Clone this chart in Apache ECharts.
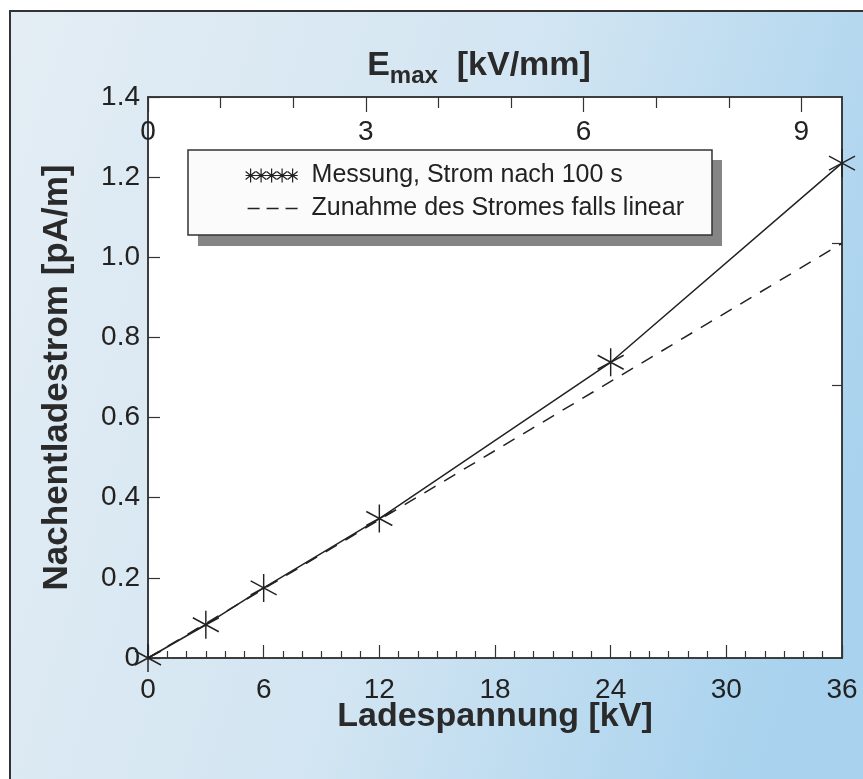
<!DOCTYPE html>
<html>
<head>
<meta charset="utf-8">
<script src="https://cdn.jsdelivr.net/npm/echarts@6/dist/echarts.min.js"></script>
<style>
  html, body { margin: 0; padding: 0; background: #fff; }
  #chart { width: 863px; height: 779px; }
</style>
</head>
<body>
<div id="chart"></div>
<script>
// Messwerte
const voltage = [0, 3, 6, 12, 24, 36];
const current = [0, 0.083, 0.175, 0.348, 0.738, 1.235];
// lineare Extrapolation
const linearVoltage = [0, 36];
const linearCurrent = [0, 1.035];
// obere Achse E_max
const fieldMax = 9.56;
const fieldLabels = [0, 3, 6, 9];
const fieldMinor = [1, 2, 4, 5, 7, 8];
const rightTicks = [0.68, 1.035];

const FONT = "'Liberation Sans', Arial, Helvetica, sans-serif";
const INK = "#222";

const starPath = "path://M0,-10L0,10M-9,-5L9,5M-9,5L9,-5";

// legend icons: row of small stars, and three dashes
let starRow = "M0,8L52,8";
[5, 15.5, 26, 36.5, 47].forEach((cx) => {
  starRow += `M${cx},1L${cx},15M${cx - 5},4L${cx + 5},12M${cx - 5},12L${cx + 5},4`;
});
const dashRow =
  "M0,0L0.01,0L0,0.01Z M0,16L0.01,16L0,15.99Z M52,0L52.01,0L52,0.01Z " +
  "M2,7.3L14,7.3L14,8.7L2,8.7Z M21,7.3L33,7.3L33,8.7L21,8.7Z M40,7.3L52,7.3L52,8.7L40,8.7Z";

let chart = echarts.init(document.getElementById("chart"));

const axisLineStyle = { color: "#333", width: 1.5 };
const tickLineStyle = { color: "#333", width: 1.2 };

let option = {
  animation: false,
  textStyle: { fontFamily: FONT, color: INK },
  graphic: [
    {
      type: "rect",
      z: -10,
      silent: true,
      shape: { x: 10, y: 11, width: 900, height: 820 },
      style: {
        fill: new echarts.graphic.LinearGradient(0, 0, 1, 0.35, [
          { offset: 0, color: "#e4edf4" },
          { offset: 0.55, color: "#d2e5f2" },
          { offset: 1, color: "#a8d2ee" },
        ]),
        stroke: "#333",
        lineWidth: 2,
      },
    },
    {
      // Schatten hinter der Legende
      type: "rect",
      z: 1,
      silent: true,
      shape: { x: 198, y: 160, width: 524, height: 86 },
      style: { fill: "#858585" },
    },
  ],
  grid: {
    left: 148,
    right: 21,
    top: 97,
    bottom: 121,
    show: true,
    backgroundColor: "#fff",
    borderColor: "#333",
    borderWidth: 1.5,
  },
  legend: {
    left: 188,
    top: 150,
    orient: "vertical",
    padding: [13, 28, 14, 57],
    itemWidth: 52,
    itemHeight: 16,
    itemGap: 8,
    backgroundColor: "#fbfbfb",
    borderColor: "#333",
    borderWidth: 1.5,
    borderRadius: 0,
    z: 5,
    textStyle: { fontSize: 25, color: INK, fontFamily: FONT, padding: [0, 0, 0, 9] },
    data: [
      {
        name: "Messung, Strom nach 100 s",
        icon: "path://" + starRow,
        itemStyle: { color: "transparent", borderColor: INK, borderWidth: 1.2 },
      },
      {
        name: "Zunahme des Stromes falls linear",
        icon: "path://" + dashRow,
        itemStyle: { color: INK, borderWidth: 0 },
      },
    ],
  },
  xAxis: [
    {
      type: "value",
      position: "bottom",
      min: 0,
      max: 36,
      interval: 6,
      name: "Ladespannung [kV]",
      nameLocation: "middle",
      nameGap: 42,
      nameMoveOverlap: false,
      nameTextStyle: { fontSize: 34, fontWeight: "bold", color: "#2a2a2a" },
      axisLine: { show: true, onZero: false, lineStyle: axisLineStyle },
      axisTick: { inside: true, length: 13, lineStyle: tickLineStyle },
      minorTick: { show: true, splitNumber: 6, length: 7, lineStyle: tickLineStyle },
      axisLabel: { fontSize: 28, margin: 18, color: INK },
      splitLine: { show: false },
    },
    {
      type: "value",
      position: "top",
      min: 0,
      max: fieldMax,
      name: "{b|E}{s|max}{b|  [kV/mm]}",
      nameLocation: "middle",
      nameGap: 9,
      nameMoveOverlap: false,
      nameTextStyle: {
        padding: [0, 32, 0, 0],
        rich: {
          b: { fontSize: 34, fontWeight: "bold", color: "#2a2a2a", lineHeight: 44, fontFamily: FONT },
          s: { fontSize: 24, fontWeight: "bold", color: "#2a2a2a", lineHeight: 22, verticalAlign: "bottom", fontFamily: FONT },
        },
      },
      axisLine: { show: true, onZero: false, lineStyle: axisLineStyle },
      axisTick: { inside: true, length: 15, customValues: fieldLabels, lineStyle: tickLineStyle },
      axisLabel: { inside: true, fontSize: 28, margin: 21, color: INK, customValues: fieldLabels },
      splitLine: { show: false },
    },
    {
      type: "value",
      position: "top",
      min: 0,
      max: fieldMax,
      axisLine: { show: false, onZero: false },
      axisTick: { inside: true, length: 11, customValues: fieldMinor, lineStyle: tickLineStyle },
      axisLabel: { show: false },
      splitLine: { show: false },
    },
  ],
  yAxis: [
    {
      type: "value",
      position: "left",
      min: 0,
      max: 1.4,
      interval: 0.2,
      name: "Nachentladestrom [pA/m]",
      nameLocation: "middle",
      nameGap: 73,
      nameMoveOverlap: false,
      nameTextStyle: { fontSize: 35, fontWeight: "bold", color: "#2a2a2a" },
      axisLine: { show: true, onZero: false, lineStyle: axisLineStyle },
      axisTick: { inside: true, length: 12, lineStyle: tickLineStyle },
      axisLabel: {
        fontSize: 28,
        margin: 8,
        color: INK,
        formatter: (v) => (v === 0 ? "0" : v.toFixed(1)),
      },
      splitLine: { show: false },
    },
    {
      type: "value",
      position: "right",
      min: 0,
      max: 1.4,
      axisLine: { show: true, onZero: false, lineStyle: axisLineStyle },
      axisTick: { inside: true, length: 10, customValues: rightTicks, lineStyle: tickLineStyle },
      axisLabel: { show: false },
      splitLine: { show: false },
    },
  ],
  series: [
    {
      name: "Zunahme des Stromes falls linear",
      type: "line",
      data: linearVoltage.map((x, i) => [x, linearCurrent[i]]),
      showSymbol: false,
      symbol: "none",
      lineStyle: { color: INK, width: 1.5, type: [13, 10] },
      itemStyle: { color: INK },
      z: 2,
    },
    {
      name: "Messung, Strom nach 100 s",
      type: "line",
      data: voltage.map((x, i) => [x, current[i]]),
      symbol: starPath,
      symbolSize: [26, 28],
      lineStyle: { color: INK, width: 1.5 },
      itemStyle: { color: "transparent", borderColor: INK, borderWidth: 1.5 },
      z: 3,
    },
  ],
};

chart.setOption(option);
</script>
</body>
</html>
